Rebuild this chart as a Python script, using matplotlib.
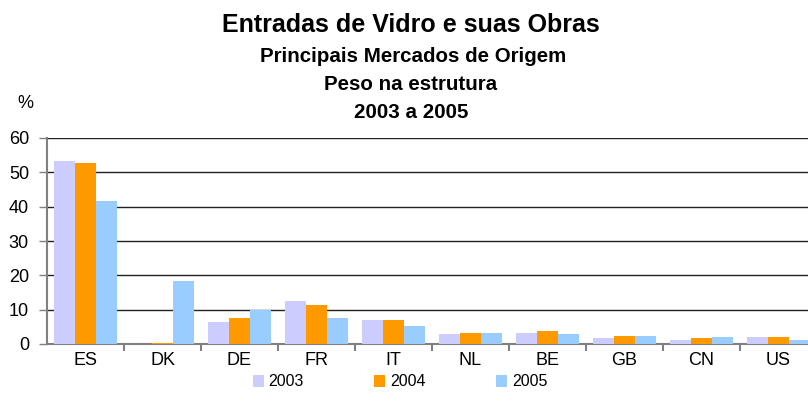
import matplotlib.pyplot as plt
import numpy as np

plt.rcParams["font.family"] = ["Liberation Sans", "DejaVu Sans"]

countries = ["ES", "DK", "DE", "FR", "IT", "NL", "BE", "GB", "CN", "US"]
years = ["2003", "2004", "2005"]
share_2003 = [53.4, 0.1, 6.4, 12.5, 7.0, 2.9, 3.2, 1.7, 1.2, 2.0]
share_2004 = [52.8, 0.2, 7.6, 11.4, 7.0, 3.2, 3.8, 2.3, 1.7, 2.0]
share_2005 = [41.7, 18.4, 9.9, 7.6, 5.2, 3.2, 2.9, 2.3, 2.0, 1.2]
colors = ["#CCCCFF", "#FF9900", "#99CCFF"]

fig = plt.figure(figsize=(8.08, 4.05), dpi=100)
ax = fig.add_axes([47 / 808, 61 / 405, 770 / 808, 206 / 405])

x = np.arange(len(countries))
width = 0.27
for i, (vals, year) in enumerate(zip([share_2003, share_2004, share_2005], years)):
    ax.bar(x + (i - 1) * width, vals, width, color=colors[i], label=year, zorder=3)

ax.set_xlim(-0.5, len(countries) - 0.5)
ax.set_ylim(0, 60)
ax.set_yticks(range(0, 61, 10))
ax.yaxis.grid(True, color="#222222", linewidth=1.0, zorder=0)
ax.set_xticks(x)
ax.set_xticklabels(countries, fontsize=13)
ax.set_xticks(np.arange(0.5, len(countries) - 0.5, 1), minor=True)
ax.tick_params(axis="x", which="major", length=0, pad=6)
ax.tick_params(axis="x", which="minor", length=5, color="#808080", width=1.5)
ax.tick_params(axis="y", length=6, color="#808080", width=1, labelsize=13, pad=7)

for side in ["top", "right"]:
    ax.spines[side].set_visible(False)
for side in ["left", "bottom"]:
    ax.spines[side].set_color("#808080")
    ax.spines[side].set_linewidth(1.5)

fig.text(25 / 808, 1 - 103 / 405, "%", ha="center", va="center", fontsize=13)

fig.text(411 / 808, 1 - 25 / 405, "Entradas de Vidro e suas Obras",
         ha="center", va="center", fontsize=18, fontweight="bold")
fig.text(413 / 808, 1 - 57 / 405, "Principais Mercados de Origem",
         ha="center", va="center", fontsize=14.8, fontweight="bold")
fig.text(411 / 808, 1 - 85 / 405, "Peso na estrutura",
         ha="center", va="center", fontsize=14.8, fontweight="bold")
fig.text(411 / 808, 1 - 113 / 405, "2003 a 2005",
         ha="center", va="center", fontsize=14.8, fontweight="bold")

fig.legend(loc="center", bbox_to_anchor=(400 / 808, 1 - 382 / 405), ncol=3,
           frameon=False, fontsize=11.5, handlelength=0.7, handleheight=0.7,
           handletextpad=0.3, columnspacing=4.4)

fig.savefig("out.png", dpi=100)
